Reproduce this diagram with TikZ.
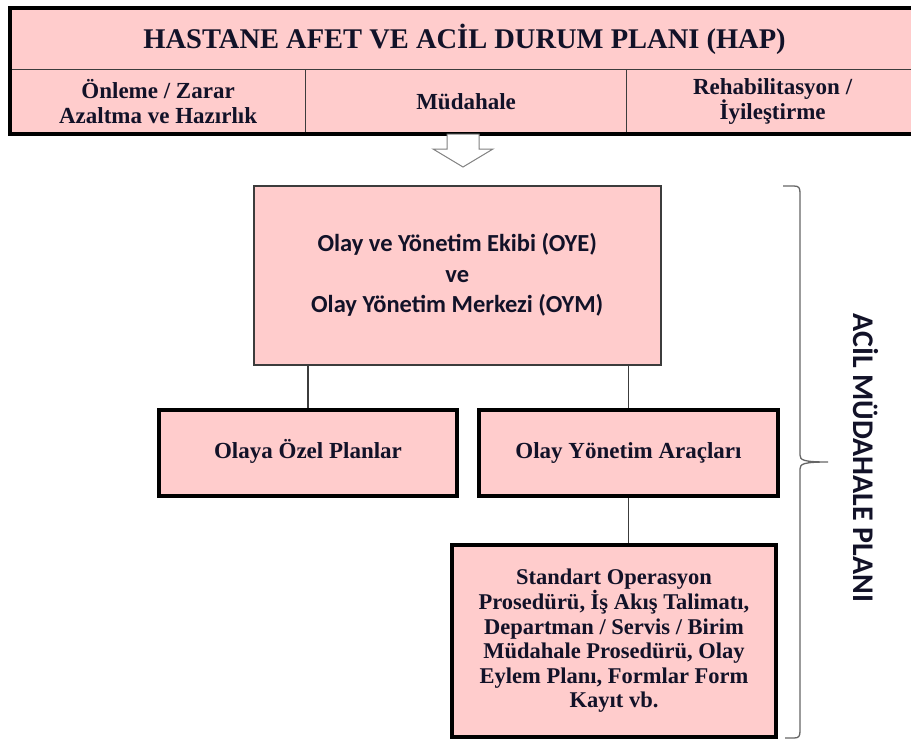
\documentclass[tikz,border=0pt]{standalone}
\usepackage{fontspec}
\setmainfont{Liberation Serif}
\newfontfamily\calibri{Carlito}
\definecolor{cellpink}{RGB}{255,204,204}
\definecolor{inknavy}{RGB}{18,18,40}
\definecolor{rulegray}{RGB}{60,60,60}

\begin{document}
\begin{tikzpicture}[x=1pt,y=-1pt,
  cell/.style={draw=rulegray, line width=1.2pt, fill=cellpink, inner sep=0pt,
    anchor=north west, align=center, text=inknavy,
    font=\bfseries\fontsize{23}{25.5}\selectfont},
  thickbox/.style={cell, draw=black, line width=4pt},
  thinbox/.style={cell, draw=rulegray, line width=1.5pt,
    font=\calibri\bfseries\fontsize{24.5}{30.5}\selectfont},
  link/.style={draw=rulegray, line width=1.2pt},
  hollowarrow/.style={draw=gray, line width=1pt, fill=white},
  bracepath/.style={draw=gray!80!black, line width=1.3pt},
]
\useasboundingbox (0,0) rectangle (911,742);
\clip (0,0) rectangle (911,742);

% plan table: title row and three phase cells
\node[cell, minimum width=908pt, minimum height=61pt,
      font=\bfseries\fontsize{28.5}{30}\selectfont] (title) at (10,8)
      {HASTANE AFET VE ACİL DURUM PLANI (HAP)};
\node[cell, minimum width=295pt, minimum height=64pt] (phase1) at (10,69)
      {Önleme / Zarar\\Azaltma ve Hazırlık};
\node[cell, minimum width=321pt, minimum height=64pt] (phase2) at (305,69)
      {Müdahale};
\node[cell, minimum width=292pt, minimum height=64pt] (phase3) at (626,69)
      {Rehabilitasyon /\\İyileştirme};
\draw[draw=black, line width=4pt] (title.north west) rectangle (phase3.south east);

% hollow arrow pointing down from the Müdahale cell
\draw[hollowarrow] (447,134) -- (479,134) -- (479,149) -- (493,149)
  -- (463,167) -- (433,149) -- (447,149) -- cycle;

% response plan boxes
\node[thinbox, minimum width=407pt, minimum height=179pt] (oye) at (253,185)
      {Olay ve Yönetim Ekibi (OYE)\\ve\\Olay Yönetim Merkezi (OYM)};
\node[thickbox, minimum width=298pt, minimum height=86pt] (ozel) at (157,408)
      {\strut Olaya Özel Planlar};
\node[thickbox, minimum width=299pt, minimum height=86pt] (arac) at (477,408)
      {\strut Olay Yönetim Araçları};
\node[thickbox, minimum width=324pt, minimum height=192pt,
      font=\bfseries\fontsize{22.5}{24.6}\selectfont] (sop) at (450,543)
      {Standart Operasyon\\Prosedürü, İş Akış Talimatı,\\Departman / Servis / Birim\\Müdahale Prosedürü, Olay\\Eylem Planı, Formlar Form\\Kayıt vb.};

% connectors
\draw[link] (oye.south -| ozel.north) -- (ozel.north);
\draw[link] (oye.south -| arac.north) -- (arac.north);
\draw[link] (arac.south) -- (arac.south |- sop.north);

% right brace grouping the response plan
\draw[bracepath] (783,186) -- (794,186) .. controls (799,186) and (800,188) .. (800,193)
  -- (800,455) .. controls (800,460) and (803,462) .. (828,462)
  .. controls (803,462) and (800,464) .. (800,469)
  -- (800,731) .. controls (800,736) and (799,738) .. (794,738) -- (785,738);
\node[rotate=-90, text=inknavy, font=\calibri\bfseries\fontsize{30}{32}\selectfont]
  (plan) at (866,458) {ACİL MÜDAHALE PLANI};
\end{tikzpicture}
\end{document}
